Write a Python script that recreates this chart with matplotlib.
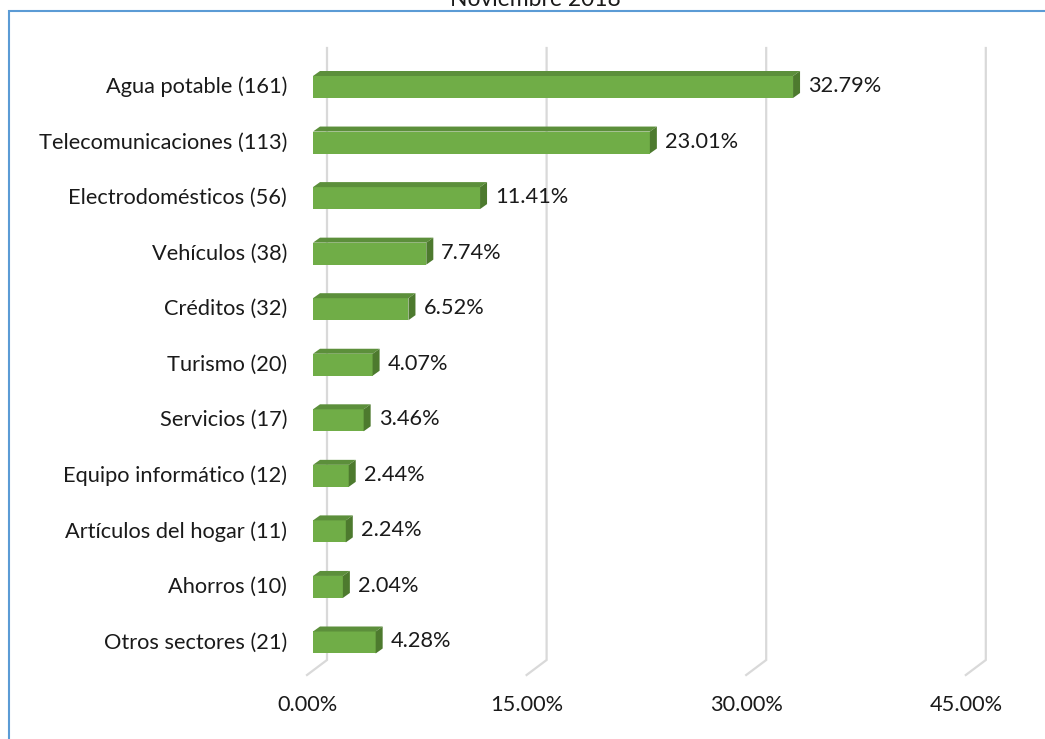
import matplotlib
matplotlib.use("Agg")
import matplotlib.pyplot as plt
from matplotlib.patches import Polygon, Rectangle

# ---- data ----
categories = ["Agua potable (161)", "Telecomunicaciones (113)", "Electrodomésticos (56)",
              "Vehículos (38)", "Créditos (32)", "Turismo (20)", "Servicios (17)",
              "Equipo informático (12)", "Artículos del hogar (11)", "Ahorros (10)",
              "Otros sectores (21)"]
values = [32.79, 23.01, 11.41, 7.74, 6.52, 4.07, 3.46, 2.44, 2.24, 2.04, 4.28]
xticks = [0, 15, 30, 45]
xtick_labels = ["0.00%", "15.00%", "30.00%", "45.00%"]
title = "Noviembre 2018"

FONT = ["Lato", "DejaVu Sans"]
plt.rcParams['font.family'] = FONT
FS = 15.7
TXT = "#1a1a1a"

W, H = 1045, 739
fig = plt.figure(figsize=(W / 100, H / 100), dpi=100)

# geometry (pixels)
px_per_pct = 14.64
x0_px = 313.0           # front face zero
row_px = 55.55
y0_px = 87.0            # first row center
ax_l, ax_r, ax_t, ax_b = 290, 1000, 48, 675

xlim = ((ax_l - x0_px) / px_per_pct, (ax_r - x0_px) / px_per_pct)
ylim = ((ax_b - y0_px) / row_px, (ax_t - y0_px) / row_px)

ax = fig.add_axes([ax_l / W, 1 - ax_b / H, (ax_r - ax_l) / W, (ax_b - ax_t) / H])
ax.set_xlim(*xlim)
ax.set_ylim(*ylim)
ax.axis("off")

def dx(px):
    return px / px_per_pct

def dy(px):
    return px / row_px

# gridlines: back wall + floor
grid_col = "#d9d9d9"
y_back_bottom = (660 - y0_px) / row_px
y_front_bottom = (675 - y0_px) / row_px
y_top = ylim[1]
for v in xticks:
    xb = v + dx(14)
    xf = v - dx(6)
    ax.plot([xb, xb, xf], [y_top, y_back_bottom, y_front_bottom], color=grid_col,
            lw=1.6, solid_joinstyle="miter", zorder=1, clip_on=False)

# bars
front_c = "#70ad47"
top_c = "#5c8f3b"
side_c = "#4d7a2e"
bh = dy(22)
ddx, ddy = dx(7), dy(5)
for i, v in enumerate(values):
    top = i - bh / 2
    bot = i + bh / 2
    ax.add_patch(Rectangle((0, top), v, bh, facecolor=front_c, edgecolor="none", zorder=3))
    ax.add_patch(Polygon([(0, top), (v, top), (v + ddx, top - ddy), (ddx, top - ddy)],
                         closed=True, facecolor=top_c, edgecolor="none", zorder=3))
    ax.add_patch(Polygon([(v, top), (v, bot), (v + ddx, bot - ddy), (v + ddx, top - ddy)],
                         closed=True, facecolor=side_c, edgecolor="none", zorder=3))
    ax.text(v + ddx + dx(8), i - dy(1), f"{v:.2f}%", ha="left", va="center",
            fontsize=FS, color=TXT, zorder=4)
    ax.text(dx(-26), i, categories[i], ha="right", va="center",
            fontsize=FS, color=TXT, clip_on=False)

# x tick labels
y_lab = (705 - y0_px) / row_px
for v, lab in zip(xticks, xtick_labels):
    ax.text(v - dx(6), y_lab, lab, ha="center", va="center", fontsize=FS,
            color=TXT, clip_on=False)

# outer blue border
fig.patches.append(Rectangle((9 / W, -0.05), 1.1, 1 - 11 / H + 0.05, transform=fig.transFigure,
                             fill=False, edgecolor="#5b9bd5", lw=1.5))

fig.text(535 / W, 1 - 6 / H, title, ha="center", va="baseline", fontsize=16.5, color=TXT)

fig.savefig("out.png", dpi=100)
